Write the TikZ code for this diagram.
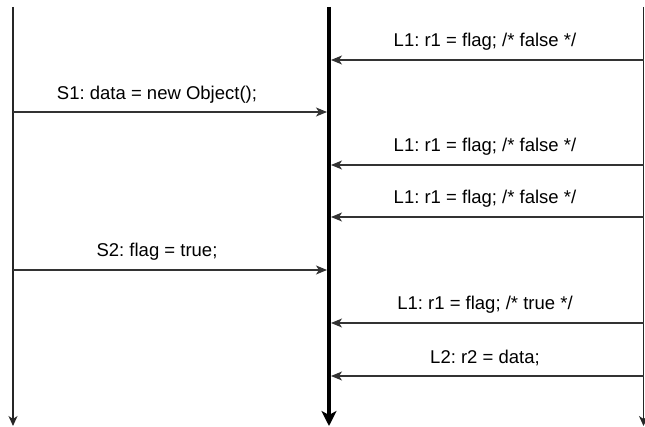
\documentclass[tikz,border=0pt]{standalone}
\usepackage{fontspec}
\setmainfont{Liberation Sans}
\frenchspacing
\usetikzlibrary{arrows.meta}
\begin{document}
\begin{tikzpicture}[x=1pt,y=-1pt,
  lifeline/.style={line width=1.2pt, draw=black!85, -{Stealth[length=10pt,width=9pt,inset=3pt]}},
  bus/.style={line width=4pt, draw=black, -{Stealth[length=15pt,width=15pt,inset=4pt]}},
  msg/.style={line width=1.1pt, draw=black!80, -{Stealth[length=11pt,width=9pt,inset=3pt]}},
  lbl/.style={font=\fontsize{18.5}{20}\selectfont, anchor=base, inner sep=0pt}]
  \useasboundingbox (0,0) rectangle (645,427);
  % lifelines
  \coordinate (ltop) at (13,7);   \coordinate (lbot) at (13,426);
  \coordinate (mtop) at (329,7);  \coordinate (mbot) at (329,426);
  \coordinate (rtop) at (643.5,7);\coordinate (rbot) at (643.5,426);
  \draw[lifeline] (ltop) -- (lbot);
  \draw[lifeline] (rtop) -- (rbot);
  \draw[bus] (mtop) -- (mbot);
  % message ends
  \foreach \n/\y in {a/60,c/165,d/217,f/323,g/376}{
    \coordinate (r\n) at (643.5,\y);
    \coordinate (m\n) at (331,\y);
  }
  \foreach \n/\y in {b/112,e/270}{
    \coordinate (l\n) at (13,\y);
    \coordinate (m\n) at (327,\y);
  }
  \draw[msg] (ra) -- (ma);
  \draw[msg] (lb) -- (mb);
  \draw[msg] (rc) -- (mc);
  \draw[msg] (rd) -- (md);
  \draw[msg] (le) -- (me);
  \draw[msg] (rf) -- (mf);
  \draw[msg] (rg) -- (mg);
  % labels
  \node[lbl] (ta) at (485,47)  {L1: r1 = flag; /* false */};
  \node[lbl] (tb) at (157,100) {S1: data = new Object();};
  \node[lbl] (tc) at (485,152) {L1: r1 = flag; /* false */};
  \node[lbl] (td) at (485,204) {L1: r1 = flag; /* false */};
  \node[lbl] (te) at (157,257) {S2: flag = true;};
  \node[lbl] (tf) at (485,310) {L1: r1 = flag; /* true */};
  \node[lbl] (tg) at (485,363) {L2: r2 = data;};
\end{tikzpicture}
\end{document}
